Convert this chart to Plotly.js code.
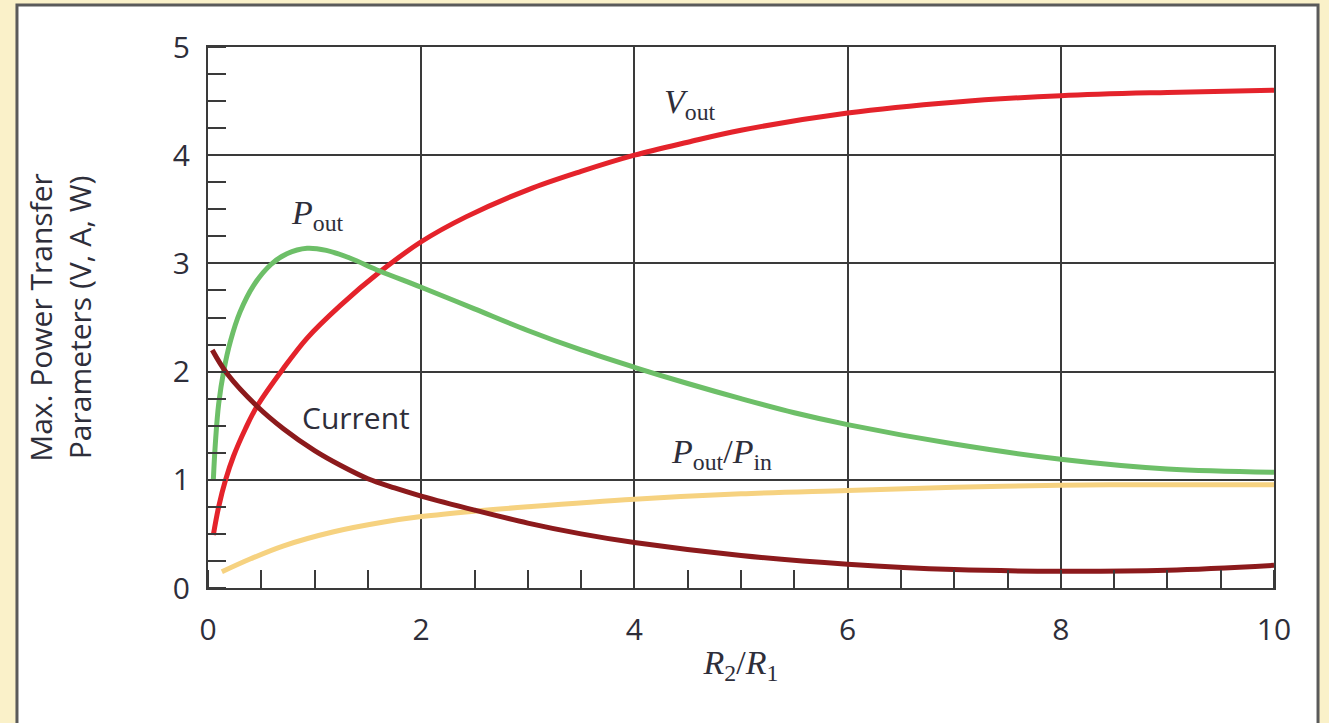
<!DOCTYPE html>
<html>
<head>
<meta charset="utf-8">
<script src="https://cdn.plot.ly/plotly-3.0.1.min.js"></script>
<style>
html,body{margin:0;padding:0;background:#faf1c9;}
#chart{width:1329px;height:723px;}
</style>
</head>
<body>
<div id="chart"></div>
<script>
// Data (x = R2/R1)
const voutX = [0.05,0.1,0.165,0.24,0.35,0.46,0.7,0.93,1.24,1.61,2.0,2.42,3.0,3.5,4.0,4.5,5.0,6.0,7.0,8.0,9.0,10];
const voutY = [0.49,0.75,1.0,1.22,1.47,1.68,2.02,2.31,2.61,2.92,3.2,3.43,3.68,3.85,4.0,4.12,4.23,4.39,4.49,4.55,4.58,4.6];

const poutX = [0.05,0.07,0.1,0.15,0.21,0.3,0.43,0.59,0.74,0.93,1.11,1.33,1.61,2.0,2.5,3.0,3.5,4.0,4.5,5.0,5.5,6.0,7.0,8.0,9.0,10];
const poutY = [1.0,1.35,1.7,2.02,2.28,2.55,2.8,2.99,3.09,3.14,3.12,3.05,2.93,2.78,2.58,2.38,2.2,2.04,1.89,1.75,1.62,1.51,1.33,1.19,1.1,1.07];

const currentX = [0.04,0.18,0.46,0.71,1.0,1.25,1.5,1.75,2.0,2.5,3.0,3.5,4.0,5.0,6.0,7.0,8.0,9.0,10];
const currentY = [2.2,1.98,1.68,1.47,1.27,1.13,1.01,0.925,0.85,0.72,0.6,0.5,0.42,0.3,0.22,0.17,0.155,0.165,0.21];

const effX = [0.13,0.4,0.71,1.18,1.65,2.0,2.5,3.0,4.0,5.0,6.0,7.0,8.0,9.0,10];
const effY = [0.15,0.27,0.39,0.52,0.61,0.66,0.71,0.75,0.82,0.87,0.9,0.93,0.95,0.955,0.955];

const xTicks = [0,2,4,6,8,10];
const yTicks = [0,1,2,3,4,5];

const lineStyle = (c) => ({color:c, width:5, shape:'spline', smoothing:1});

const traces = [
  {x:voutX, y:voutY, mode:'lines', name:'Vout', line:lineStyle('#e4232b')},
  {x:poutX, y:poutY, mode:'lines', name:'Pout', line:lineStyle('#6dbf68')},
  {x:effX, y:effY, mode:'lines', name:'Pout/Pin', line:lineStyle('#f6d280')},
  {x:currentX, y:currentY, mode:'lines', name:'Current', line:lineStyle('#8c1a1c')}
];

const textColor = '#2e2e3a';
const serif = 'Liberation Serif, Times New Roman, serif';
const sans = 'Open Sans, Noto Sans, sans-serif';

const layout = {
  width:1329, height:723,
  paper_bgcolor:'#faf1c9',
  plot_bgcolor:'#ffffff',
  showlegend:false,
  margin:{l:208, r:55, t:47, b:135, pad:0},
  font:{family:sans, color:textColor},
  xaxis:{
    range:[0,10], tickvals:xTicks, ticktext:xTicks.map(String),
    showline:true, mirror:true, linecolor:'#3a3a3a', linewidth:2,
    showgrid:true, gridcolor:'#3a3a3a', gridwidth:2,
    ticks:'', zeroline:false,
    minor:{ticks:'inside', ticklen:18, tickwidth:2, tickcolor:'#3a3a3a', dtick:0.5, showgrid:false},
    tickfont:{family:sans, size:30, color:textColor},
    ticklabelstandoff:14,
    title:{text:'<i>R</i><sub>2</sub>/<i>R</i><sub>1</sub>', font:{family:serif, size:34, color:textColor}, standoff:2}
  },
  yaxis:{
    range:[0,5], tickvals:yTicks, ticktext:yTicks.map(String),
    showline:true, mirror:true, linecolor:'#3a3a3a', linewidth:2,
    showgrid:true, gridcolor:'#3a3a3a', gridwidth:2,
    ticks:'', zeroline:false,
    minor:{ticks:'inside', ticklen:18, tickwidth:2, tickcolor:'#3a3a3a', dtick:0.25, showgrid:false},
    tickfont:{family:sans, size:30, color:textColor},
    ticklabelstandoff:10,
    title:{text:'Max. Power Transfer<br>Parameters (V, A, W)', font:{family:sans, size:30, color:textColor}, standoff:72}
  },
  shapes:[
    {type:'rect', xref:'paper', yref:'paper', x0:-0.1792, x1:1.0413, y0:-0.3, y1:1.0776,
     fillcolor:'#ffffff', line:{color:'#5a5a5a', width:3}, layer:'below'}
  ],
  annotations:[
    {x:4.52, y:4.47, xref:'x', yref:'y', showarrow:false,
     text:'<i>V</i><sub>out</sub>', font:{family:serif, size:34, color:textColor}},
    {x:1.03, y:3.45, xref:'x', yref:'y', showarrow:false,
     text:'<i>P</i><sub>out</sub>', font:{family:serif, size:34, color:textColor}},
    {x:1.39, y:1.58, xref:'x', yref:'y', showarrow:false,
     text:'Current', font:{family:sans, size:30, color:textColor}},
    {x:4.82, y:1.24, xref:'x', yref:'y', showarrow:false,
     text:'<i>P</i><sub>out</sub>/<i>P</i><sub>in</sub>', font:{family:serif, size:34, color:textColor}}
  ]
};

Plotly.newPlot('chart', traces, layout, {staticPlot:true, displayModeBar:false});
</script>
</body>
</html>
